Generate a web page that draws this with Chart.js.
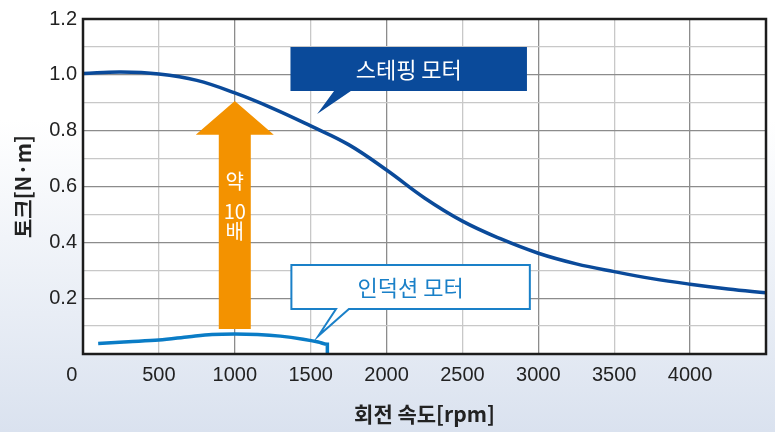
<!DOCTYPE html>
<html>
<head>
<meta charset="utf-8">
<script src="https://cdn.jsdelivr.net/npm/chart.js@4/dist/chart.umd.min.js"></script>
<style>
  body { margin: 0; background: #fff; }
  canvas { display: block; }
</style>
</head>
<body>
<canvas id="torqueChart" width="775" height="432"></canvas>
<script>
// 스테핑 모터 토크 곡선 (rpm, N·m)
const stepRpm = [0, 250, 500, 750, 1000, 1250, 1500, 1750, 2000, 2250, 2500, 2750, 3000, 3250, 3500, 3750, 4000, 4250, 4500];
const stepTorque = [1.005, 1.01, 1.003, 0.98, 0.935, 0.88, 0.817, 0.75, 0.659, 0.559, 0.476, 0.413, 0.361, 0.323, 0.295, 0.27, 0.25, 0.233, 0.219];

// 인덕션 모터 토크 곡선
const indRpm = [100, 300, 500, 700, 850, 1000, 1150, 1300, 1450, 1550, 1610, 1610];
const indTorque = [0.038, 0.044, 0.05, 0.062, 0.07, 0.072, 0.07, 0.064, 0.053, 0.043, 0.035, 0];

const xTicks = [0, 500, 1000, 1500, 2000, 2500, 3000, 3500, 4000];
const yTicks = [0.2, 0.4, 0.6, 0.8, 1.0, 1.2];

const xTitle = '회전 속도[rpm]';
const yTitle = '토크[N·m]';
const stepLabel = '스테핑 모터';
const indLabel = '인덕션 모터';
const arrowLabel = ['약', '10', '배'];

const tickFont = { family: "'Liberation Sans', Arial, sans-serif", size: 20 };
const titleFont = { family: "'Noto Sans CJK KR', sans-serif", size: 21, weight: 'bold' };
const korFont = "22px 'Noto Sans CJK KR', sans-serif";

function toPts(xs, ys) {
    return xs.map((x, i) => ({ x: x, y: ys[i] }));
}

function isMajor(v, step) {
    return Math.abs(Math.round(v / step) * step - v) < 1e-6;
}

const backgroundPlugin = {
    id: 'background',
    beforeDraw(chart) {
        const { ctx, chartArea: a } = chart;
        ctx.save();
        const g = ctx.createLinearGradient(0, 120, 0, chart.height);
        g.addColorStop(0, '#ffffff');
        g.addColorStop(1, '#dae2ef');
        ctx.fillStyle = g;
        ctx.fillRect(0, 0, chart.width, chart.height);
        ctx.fillStyle = '#ffffff';
        ctx.fillRect(a.left, a.top, a.right - a.left, a.bottom - a.top);
        ctx.restore();
    }
};

const notesPlugin = {
    id: 'notes',
    afterDatasetsDraw(chart) {
        const { ctx } = chart;
        const xs = chart.scales.x, ys = chart.scales.y;
        const px = v => xs.getPixelForValue(v);
        const py = v => ys.getPixelForValue(v);
        ctx.save();

        // 약 10배 화살표
        const ax = px(1000);
        ctx.fillStyle = '#f39200';
        ctx.beginPath();
        ctx.moveTo(ax - 16, py(0.09));
        ctx.lineTo(ax - 16, py(0.785));
        ctx.lineTo(ax - 39, py(0.785));
        ctx.lineTo(ax, py(0.906));
        ctx.lineTo(ax + 39, py(0.785));
        ctx.lineTo(ax + 16, py(0.785));
        ctx.lineTo(ax + 16, py(0.09));
        ctx.closePath();
        ctx.fill();
        ctx.fillStyle = '#ffffff';
        ctx.font = "20px 'Noto Sans CJK KR', sans-serif";
        ctx.textAlign = 'center';
        ctx.textBaseline = 'middle';
        ctx.fillText(arrowLabel[0], ax, py(0.62));
        ctx.fillText(arrowLabel[1], ax, py(0.511));
        ctx.fillText(arrowLabel[2], ax, py(0.44));

        // 스테핑 모터 말풍선
        ctx.fillStyle = '#0a4a9a';
        ctx.beginPath();
        ctx.moveTo(px(1367), py(1.1));
        ctx.lineTo(px(2925), py(1.1));
        ctx.lineTo(px(2925), py(0.942));
        ctx.lineTo(px(1765), py(0.942));
        ctx.lineTo(px(1543), py(0.86));
        ctx.lineTo(px(1654), py(0.942));
        ctx.lineTo(px(1367), py(0.942));
        ctx.closePath();
        ctx.fill();
        ctx.fillStyle = '#ffffff';
        ctx.font = korFont;
        ctx.fillText(stepLabel, (px(1367) + px(2925)) / 2, py(1.021) + 1);

        // 인덕션 모터 말풍선
        ctx.fillStyle = '#ffffff';
        ctx.strokeStyle = '#1a80c8';
        ctx.lineWidth = 2;
        ctx.beginPath();
        ctx.moveTo(px(1373), py(0.319));
        ctx.lineTo(px(2944), py(0.319));
        ctx.lineTo(px(2944), py(0.161));
        ctx.lineTo(px(1752), py(0.161));
        ctx.lineTo(px(1550), py(0.0645));
        ctx.lineTo(px(1667), py(0.161));
        ctx.lineTo(px(1373), py(0.161));
        ctx.closePath();
        ctx.fill();
        ctx.stroke();
        ctx.fillStyle = '#1a80c8';
        ctx.fillText(indLabel, (px(1373) + px(2944)) / 2, py(0.24) + 1);

        ctx.restore();
    },
    afterDraw(chart) {
        const { ctx, chartArea: a } = chart;
        ctx.save();
        ctx.strokeStyle = '#1c1c1c';
        ctx.lineWidth = 2.5;
        ctx.strokeRect(a.left, a.top, a.right - a.left, a.bottom - a.top);
        ctx.restore();
    }
};

new Chart(document.getElementById('torqueChart'), {
    type: 'line',
    data: {
        datasets: [
            {
                label: stepLabel,
                data: toPts(stepRpm, stepTorque),
                borderColor: '#0a4a9a',
                borderWidth: 3.5,
                pointRadius: 0,
                tension: 0.4,
                fill: false
            },
            {
                label: indLabel,
                data: toPts(indRpm, indTorque),
                borderColor: '#0a7cc6',
                borderWidth: 3.5,
                pointRadius: 0,
                cubicInterpolationMode: 'monotone',
                fill: false
            }
        ]
    },
    options: {
        responsive: false,
        animation: false,
        layout: { padding: { top: 19, right: 2, left: 0, bottom: 0 } },
        plugins: {
            legend: { display: false },
            tooltip: { enabled: false }
        },
        scales: {
            x: {
                type: 'linear',
                min: 0,
                max: 4500,
                afterFit: s => { s.height = 78; },
                afterBuildTicks: s => {
                    s.ticks = [];
                    for (let v = 0; v <= 4500; v += 500) s.ticks.push({ value: v });
                },
                ticks: {
                    font: tickFont,
                    color: '#222',
                    padding: 9,
                    maxRotation: 0,
                    autoSkip: false,
                    // the 0 label sits left of the axis corner in the original
                    callback: v => v === 0 ? '0\u00a0\u00a0\u00a0\u00a0' : (xTicks.includes(v) ? String(v) : '')
                },
                grid: {
                    drawTicks: false,
                    lineWidth: 1.3,
                    color: c => isMajor(c.tick.value, 1000) ? '#8c8c8c' : '#c8c8c8'
                },
                border: { display: false },
                title: {
                    display: true,
                    text: xTitle,
                    font: titleFont,
                    color: '#222',
                    padding: { top: 0, bottom: 5 }
                }
            },
            y: {
                min: 0,
                max: 1.2,
                afterFit: s => { s.width = 83; },
                afterBuildTicks: s => {
                    s.ticks = [];
                    for (let i = 0; i <= 12; i++) s.ticks.push({ value: i / 10 });
                },
                ticks: {
                    font: tickFont,
                    color: '#222',
                    padding: 6,
                    autoSkip: false,
                    callback: v => yTicks.some(t => Math.abs(t - v) < 1e-6) ? v.toFixed(1) : ''
                },
                grid: {
                    drawTicks: false,
                    lineWidth: 1.3,
                    color: c => isMajor(c.tick.value, 0.2) ? '#8c8c8c' : '#c8c8c8'
                },
                border: { display: false },
                title: {
                    display: true,
                    text: yTitle,
                    font: titleFont,
                    color: '#222',
                    padding: { top: 10, bottom: 0 }
                }
            }
        }
    },
    plugins: [backgroundPlugin, notesPlugin]
});
</script>
</body>
</html>
